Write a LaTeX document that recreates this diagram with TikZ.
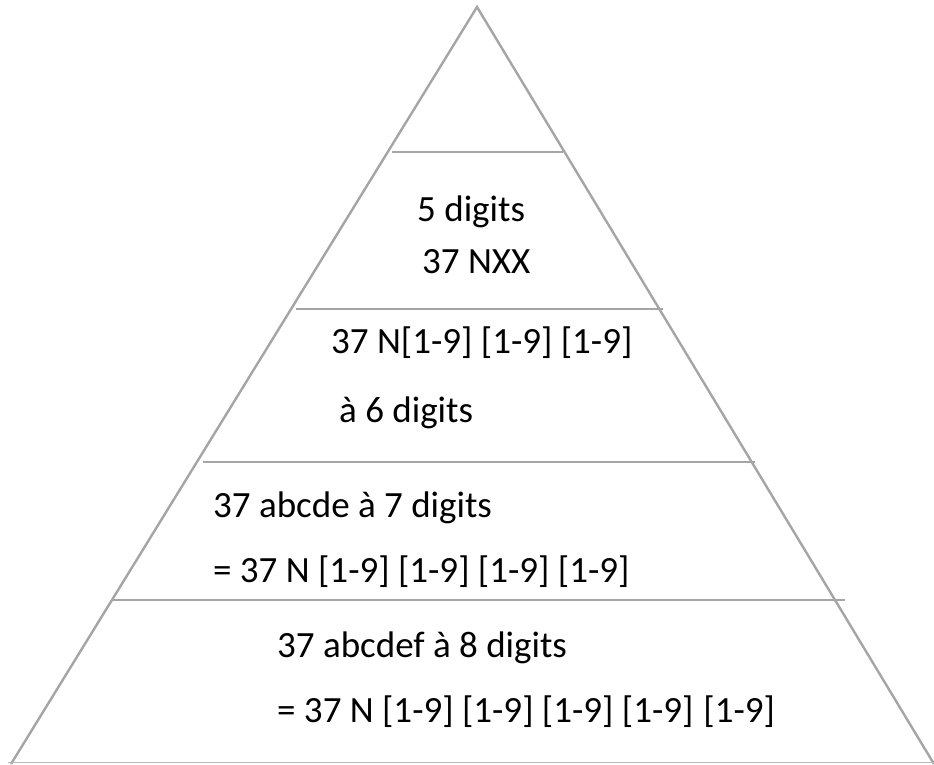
\documentclass[tikz,border=0pt]{standalone}
\usepackage{fontspec}
\setmainfont{Carlito}
\definecolor{linegray}{RGB}{165,165,165}
\begin{document}
\begin{tikzpicture}[x=1pt,y=-1pt,
  side/.style={draw=linegray,line width=2.4pt},
  tier/.style={draw=linegray,line width=2.8pt},
  baseln/.style={draw=linegray!75,line width=1.8pt},
  lbl/.style={anchor=base west,inner sep=0pt,font=\fontsize{37}{44}\selectfont}]
\useasboundingbox (0,0) rectangle (934,764);
\coordinate (apex) at (477,7);
\coordinate (bl) at (11,764);
\coordinate (br) at (934,764);
\draw[side] (bl) -- (apex) -- (br);
\coordinate (b0l) at (8,762.5);
\coordinate (b0r) at (934,762.5);
\draw[baseln] (b0l) -- (b0r);
\coordinate (h1l) at (392,152); \coordinate (h1r) at (563,152);
\coordinate (h2l) at (296,309); \coordinate (h2r) at (663,309);
\coordinate (h3l) at (203,462); \coordinate (h3r) at (755,462);
\coordinate (h4l) at (113,600); \coordinate (h4r) at (845,600);
\draw[tier] (h1l) -- (h1r);
\draw[tier] (h2l) -- (h2r);
\draw[tier] (h3l) -- (h3r);
\draw[tier] (h4l) -- (h4r);
\node[lbl] (t1) at (417,221) {5 digits};
\node[lbl] (t2) at (422,273) {37 NXX};
\node[lbl] (t3) at (331,353) {37 N[1-9] [1-9] [1-9]};
\node[lbl] (t4) at (339,422) {à 6 digits};
\node[lbl] (t5) at (213,517) {37 abcde à 7 digits};
\node[lbl] (t6) at (213,582) {= 37 N [1-9] [1-9] [1-9] [1-9]};
\node[lbl] (t7) at (277,657) {37 abcdef à 8 digits};
\node[lbl] (t8) at (277,722) {= 37 N [1-9] [1-9] [1-9] [1-9]\hspace{10pt}[1-9]};
\end{tikzpicture}
\end{document}
